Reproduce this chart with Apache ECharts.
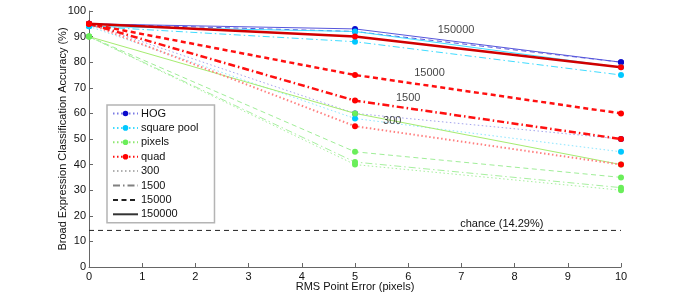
<!DOCTYPE html>
<html><head><meta charset="utf-8">
<script src="https://cdn.jsdelivr.net/npm/echarts@6/dist/echarts.min.js"></script>
<style>html,body{margin:0;padding:0;background:#fff}#c{width:685px;height:302px}</style>
</head><body><div id="c"></div>
<script>
// ---- data ----
const errors = [0, 5, 10];
const hog300 = [95, 60, 50];
const hog15000 = [95, 92, 80];
const hog150000 = [95, 93, 80];
const sq300 = [94, 58, 45];
const sq1500 = [94, 88, 75];
const sq150000 = [94, 92, 78];
const px300 = [90, 40, 30];
const px1500 = [90, 41, 31];
const px15000 = [90, 45, 35];
const px150000 = [90, 60, 40];
const quad300 = [95, 55, 40];
const quad1500 = [95, 65, 50];
const quad15000 = [95, 75, 60];
const quad150000 = [95, 90, 78];
const chance = 14.29;
const yTicks = [0,10,20,30,40,50,60,70,80,90,100];
const xTicks = [0,1,2,3,4,5,6,7,8,9,10];
const sizeLabels = [["150000", 6.9, 92.6], ["15000", 6.4, 75.8], ["1500", 6.0, 66], ["300", 5.7, 57]];
const legendNames = ["HOG", "square pool", "pixels", "quad", "300", "1500", "15000", "150000"];

const FONT = "Liberation Sans, Arial, Helvetica, sans-serif";
const DOT = [1.5, 2.5], DASHDOT = [7, 3, 1.5, 3], DASH = [5, 3.5];

function pts(vals){ return errors.map((e,i)=>[e, vals[i]]); }
function ser(name, vals, lineColor, markColor, type, width, z){
  return {name, type:'line', data: pts(vals), symbol:'circle', symbolSize:6, z:z,
    itemStyle:{color: markColor}, lineStyle:{color: lineColor, type: type, width: width},
    emphasis:{disabled:true}, animation:false};
}
const HOGL='#5656dc', HOGM='#0a0acc', SQL='#40dcff', SQM='#00c8ff', PXL='#8ee870', PXM='#6aee5a', QL='#ff1010', QM='#ff0000';
const series = [
  ser('h300', hog300, '#a4a4ee', HOGM, DOT, 1, 2),
  ser('h15000', hog15000, HOGL, HOGM, DASH, 1, 2),
  ser('h150000', hog150000, HOGL, HOGM, 'solid', 1, 2),
  ser('s300', sq300, '#8ae6ff', SQM, DOT, 1, 3),
  ser('s1500', sq1500, SQL, SQM, DASHDOT, 1, 3),
  ser('s150000', sq150000, SQL, SQM, 'solid', 1, 3),
  ser('p300', px300, '#a8f0a0', PXM, DOT, 1, 4),
  ser('p1500', px1500, '#a8f0a0', PXM, DASHDOT, 1, 4),
  ser('p15000', px15000, '#a0ee98', PXM, DASH, 1, 4),
  ser('p150000', px150000, '#a6ec70', PXM, 'solid', 1, 4),
  ser('q300', quad300, '#ff8080', QM, DOT, 2, 5),
  ser('q1500', quad1500, QL, QM, DASHDOT, 2.5, 5),
  ser('q15000', quad15000, QL, QM, DASH, 2.5, 5),
  ser('q150000', quad150000, '#d00000', QM, 'solid', 2.5, 5),
];
// legend-only series
const legStyles = [
  ['HOG', '#7a7ae4', HOGM, DOT, 1.2, true], ['square pool', SQL, SQM, DOT, 1.2, true],
  ['pixels', PXL, PXM, DOT, 1.2, true], ['quad', QL, QM, DOT, 2, true],
  ['300', '#b0b0b0', '#b0b0b0', DOT, 1, false], ['1500', '#808080', '#808080', DASHDOT, 1, false],
  ['15000', '#222', '#222', DASH, 1, false], ['150000', '#333', '#333', 'solid', 1.2, false]
];
legStyles.forEach(([n, lc, mc, t, w, sym]) => {
  series.push({name:n, type:'line', data:[], symbol: 'circle', symbolSize:6,
    itemStyle:{color: mc}, lineStyle:{color: lc, type: t, width: w}, animation:false});
});
const legendData = legendNames.map((n, i) => legStyles[i][5] ? {name:n} : {name:n, itemStyle:{opacity:0, color:'rgba(0,0,0,0)'}});
// chance line
series.push({name:'chance', type:'line', data:[[xTicks[0], chance],[xTicks[xTicks.length-1], chance]], symbol:'none',
  lineStyle:{color:'#222', type:[5,4], width:1}, z:1, animation:false,
  markPoint:{symbol:'circle', symbolSize:0, data:[{coord:[7.76, chance], value:'chance (14.29%)'}],
    label:{show:true, position:'top', distance:1, formatter:'chance (14.29%)', color:'#111', fontSize:11, fontFamily:FONT}}});
// size labels
series.push({name:'sizes', type:'scatter', symbolSize:0, z:10, animation:false,
  data: sizeLabels.map(s=>({name:s[0], value:[s[1], s[2]]})),
  label:{show:true, position:'inside', formatter:'{b}', color:'#111', fontSize:11, fontFamily:FONT}});

const chart = echarts.init(document.getElementById('c'), null, {renderer:'canvas'});
chart.setOption({
  backgroundColor:'#fff',
  animation:false,
  textStyle:{fontFamily:FONT},
  grid:{left:89, right:64, top:11, bottom:35, containLabel:false},
  xAxis:{type:'value', min:xTicks[0], max:xTicks[xTicks.length-1], interval:1,
    name:'RMS Point Error (pixels)', nameLocation:'middle', nameGap:14, nameMoveOverlap:false,
    nameTextStyle:{color:'#111', fontSize:11, fontFamily:FONT, verticalAlign:'top'},
    axisLine:{lineStyle:{color:'#666', width:1}}, axisTick:{inside:true, length:4, lineStyle:{color:'#666'}},
    axisLabel:{color:'#111', fontSize:11, margin:4, fontFamily:FONT}, splitLine:{show:false}},
  yAxis:{type:'value', min:yTicks[0], max:yTicks[yTicks.length-1], interval:10,
    name:'Broad Expression Classification Accuracy (%)', nameLocation:'middle', nameGap:21, nameMoveOverlap:false,
    nameTextStyle:{color:'#111', fontSize:11, fontFamily:FONT},
    axisLine:{show:true, lineStyle:{color:'#666', width:1}}, axisTick:{show:true, inside:true, length:4, lineStyle:{color:'#666'}},
    axisLabel:{color:'#111', fontSize:11, margin:3, fontFamily:FONT}, splitLine:{show:false}},
  legend:{data: legendData, orient:'vertical', left:107, top:105, itemWidth:25, itemHeight:7, itemGap:3.4,
    padding:[3,16,3,5], borderColor:'#b4b4b4', borderWidth:1.5, backgroundColor:'#fff', selectedMode:false,
    textStyle:{color:'#111', fontSize:11, fontFamily:FONT, padding:[0,0,0,-2]}},
  series: series
});
</script></body></html>
